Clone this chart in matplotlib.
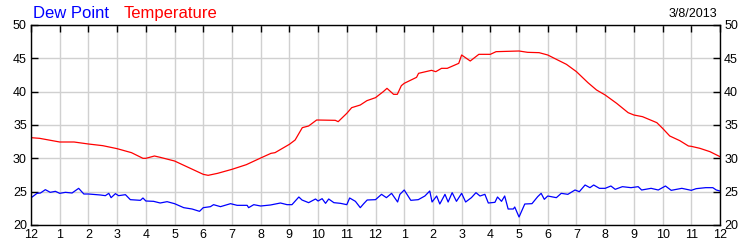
import matplotlib
matplotlib.use("Agg")
import matplotlib.pyplot as plt

plt.rcParams['font.family'] = ['Liberation Sans', 'DejaVu Sans']

temp_hours = [0, 0.3, 1.0, 1.5, 2.0, 2.5, 3.0, 3.5, 3.9, 4.0, 4.3, 4.5, 5.0, 5.5,
              6.0, 6.17, 6.5, 7.0, 7.5, 8.0, 8.36, 8.5, 9.0, 9.2, 9.45, 9.67, 9.95,
              10.6, 10.7, 11.0, 11.17, 11.47, 11.7, 12.0, 12.27, 12.4, 12.63, 12.76,
              12.9, 13.0, 13.43, 13.5, 13.95, 14.1, 14.3, 14.5, 14.9, 15.0, 15.3,
              15.6, 16.0, 16.2, 17.0, 17.3, 17.7, 18.0, 18.3, 18.65, 19.0, 19.4,
              19.7, 20.0, 20.4, 20.8, 21.0, 21.3, 21.8, 22.0, 22.25, 22.6, 22.9,
              23.0, 23.3, 23.65, 24.0]
temp_values = [33.1, 33.0, 32.45, 32.45, 32.15, 31.9, 31.45, 30.85, 30.0, 30.0, 30.35,
               30.15, 29.6, 28.6, 27.6, 27.45, 27.75, 28.35, 29.05, 30.05, 30.75, 30.85,
               32.1, 32.75, 34.6, 34.85, 35.75, 35.7, 35.5, 36.75, 37.6, 38.0, 38.65,
               39.1, 40.0, 40.5, 39.6, 39.6, 40.9, 41.25, 42.15, 42.75, 43.2, 43.0,
               43.5, 43.5, 44.25, 45.5, 44.6, 45.6, 45.6, 46.0, 46.1, 45.9, 45.85,
               45.5, 44.85, 44.1, 43.0, 41.35, 40.25, 39.5, 38.25, 36.85, 36.5, 36.25,
               35.35, 34.5, 33.35, 32.65, 31.85, 31.8, 31.5, 31.0, 30.25]

dew_hours = [0, 0.21, 0.33, 0.5, 0.67, 0.85, 1.0, 1.2, 1.43, 1.66, 1.84, 2.0, 2.42,
             2.59, 2.71, 2.79, 2.94, 3.05, 3.29, 3.46, 3.81, 3.9, 4.0, 4.27, 4.5,
             4.74, 5.0, 5.32, 5.61, 5.87, 6.0, 6.25, 6.36, 6.6, 6.95, 7.18, 7.53,
             7.58, 7.76, 8.0, 8.34, 8.69, 8.92, 9.09, 9.33, 9.44, 9.67, 9.91, 10.0,
             10.14, 10.26, 10.37, 10.55, 10.78, 11.0, 11.1, 11.3, 11.47, 11.59,
             11.71, 12.0, 12.21, 12.38, 12.56, 12.77, 12.85, 13.0, 13.23, 13.49,
             13.72, 13.89, 13.97, 14.13, 14.24, 14.42, 14.53, 14.67, 14.82, 15.0,
             15.14, 15.34, 15.5, 15.64, 15.81, 15.93, 16.16, 16.25, 16.39, 16.5,
             16.62, 16.8, 16.85, 17.0, 17.2, 17.45, 17.65, 17.77, 17.88, 18.0, 18.3,
             18.47, 18.7, 18.95, 19.1, 19.3, 19.47, 19.6, 19.8, 20.0, 20.2, 20.35,
             20.6, 20.9, 21.15, 21.27, 21.6, 21.85, 22.1, 22.3, 22.67, 23.0, 23.17,
             23.5, 23.75, 23.87, 24.0]
dew_values = [24.07, 24.75, 24.8, 25.3, 24.9, 25.05, 24.75, 24.9, 24.8, 25.5, 24.65,
              24.65, 24.5, 24.4, 24.75, 24.1, 24.7, 24.4, 24.55, 23.8, 23.7, 24.05,
              23.6, 23.55, 23.3, 23.5, 23.2, 22.6, 22.4, 22.05, 22.6, 22.75, 23.05,
              22.75, 23.2, 22.95, 22.95, 22.6, 23.05, 22.85, 23.0, 23.3, 23.05, 23.05,
              24.2, 23.75, 23.35, 23.9, 23.6, 23.95, 23.25, 23.9, 23.35, 23.25, 23.05,
              24.05, 23.55, 22.6, 23.2, 23.75, 23.8, 24.6, 24.1, 24.75, 23.45, 24.6,
              25.25, 23.7, 23.8, 24.35, 25.1, 23.45, 24.35, 23.15, 24.6, 23.45, 24.85,
              23.55, 24.75, 23.45, 24.1, 24.85, 24.35, 24.6, 23.3, 23.4, 24.2, 23.55,
              24.35, 22.4, 22.4, 22.7, 21.2, 23.15, 23.2, 24.25, 24.75, 23.85, 24.35,
              24.1, 24.75, 24.6, 25.25, 25.0, 26.0, 25.6, 26.0, 25.5, 25.5, 25.85,
              25.35, 25.75, 25.6, 25.75, 25.25, 25.5, 25.25, 25.85, 25.2, 25.5, 25.2,
              25.45, 25.6, 25.6, 25.25, 25.1]

x_ticks = list(range(0, 25))
x_labels = ['12', '1', '2', '3', '4', '5', '6', '7', '8', '9', '10', '11',
            '12', '1', '2', '3', '4', '5', '6', '7', '8', '9', '10', '11', '12']
y_ticks = [20, 25, 30, 35, 40, 45, 50]
date_label = '3/8/2013'

fig = plt.figure(figsize=(7.5, 2.5), dpi=100)
ax = fig.add_axes([31 / 750, 25 / 250, 689 / 750, 200 / 250])

ax.plot(dew_hours, dew_values, color='#0000ff', lw=0.9)
ax.plot(temp_hours, temp_values, color='#ff0000', lw=0.9)

ax.set_xlim(0, 24)
ax.set_ylim(20, 50)
ax.set_xticks(x_ticks)
ax.set_xticklabels(x_labels)
ax.set_yticks(y_ticks)
ax.grid(True, color='#d0d0d0', lw=1.0)
ax.set_axisbelow(True)

ax.tick_params(axis='x', which='both', direction='in', top=True, bottom=False,
               length=5, width=1, color='black', labelsize=9, pad=3)
ax.tick_params(axis='y', which='both', direction='in', left=True, right=True,
               labelleft=True, labelright=True, length=5, width=1,
               color='black', labelsize=9, pad=3)
for s in ax.spines.values():
    s.set_color('black')
    s.set_linewidth(1.0)

fig.text(33 / 750, 1 - 18 / 250, 'Dew Point', color='#0000ff', fontsize=12, va='baseline', ha='left')
fig.text(124 / 750, 1 - 18 / 250, 'Temperature', color='#ff0000', fontsize=12, va='baseline', ha='left')
fig.text(717 / 750, 1 - 17 / 250, date_label, color='black', fontsize=9, va='baseline', ha='right')

fig.savefig('out.png', dpi=100)
